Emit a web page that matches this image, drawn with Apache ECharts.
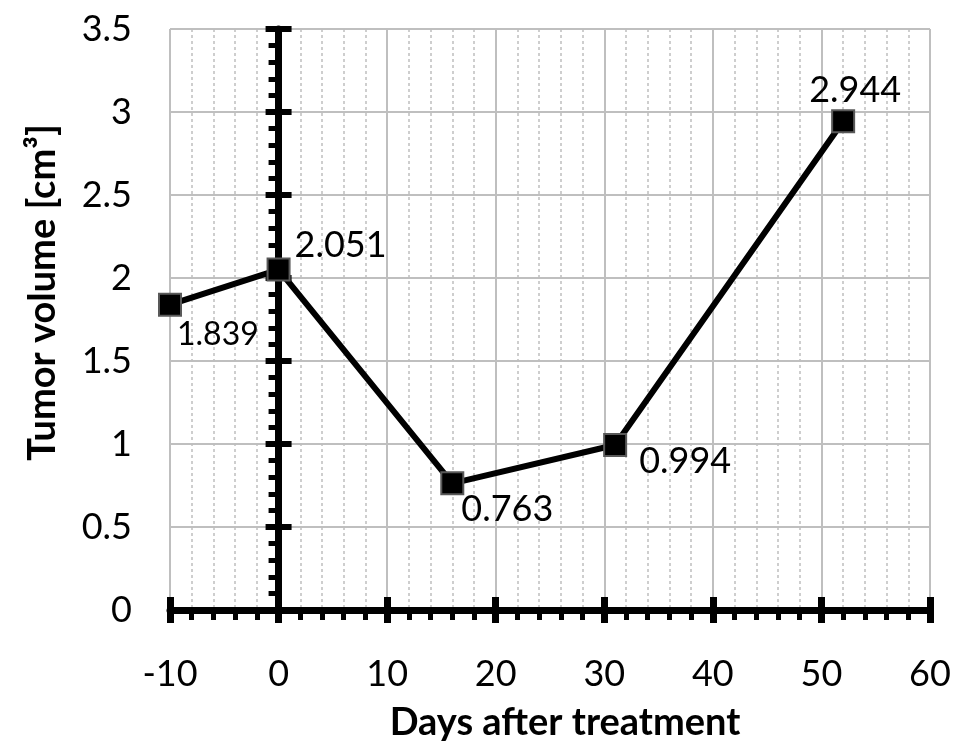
<!DOCTYPE html>
<html>
<head>
<meta charset="utf-8">
<title>Tumor volume</title>
<script src="https://cdn.jsdelivr.net/npm/echarts@6/dist/echarts.min.js"></script>
<style>
html, body { margin: 0; padding: 0; background: #fff; }
#main { width: 980px; height: 755px; }
</style>
</head>
<body>
<div id="main"></div>
<script>
/* 数据 */
var days = [-10, 0, 16, 31, 52];
var tumorVolume = [1.839, 2.051, 0.763, 0.994, 2.944];
/* 坐标轴刻度 */
var xRange = [-10, 60, 10];
var yRange = [0, 3.5, 0.5];

/* 每个数据标签相对于方块的位置 */
var labelPos = [[19, 42], [28, -12], [21, 38], [36, 28], [-22, -19]];
var labelSize = [32, 36, 36, 36, 36];

var FONT = 'Lato';
var GRID = '#bfbfbf';

function echartsTumor(divDom) {
    var seriesData = [];
    for (var i = 0; i < days.length; i++) {
        seriesData.push({
            value: [days[i], tumorVolume[i]],
            label: { position: labelPos[i], fontSize: labelSize[i] }
        });
    }

    var myChart = echarts.init(divDom);
    var option = {
        animation: false,
        textStyle: { fontFamily: FONT },
        grid: { left: 170, right: 50, top: 29, bottom: 145, containLabel: false },
        xAxis: [
            {
                type: 'value', position: 'bottom',
                min: xRange[0], max: xRange[1], interval: xRange[2],
                name: 'Days after treatment',
                nameLocation: 'middle', nameGap: 94,
                nameTextStyle: { fontSize: 38, fontWeight: 'bold', color: '#000', fontFamily: FONT, padding: [0, 0, 0, 30] },
                axisLine: { show: true, lineStyle: { color: '#000', width: 7 } },
                axisTick: { show: true, length: 13, lineStyle: { color: '#000', width: 7 } },
                minorTick: { show: true, splitNumber: 5, length: 10, lineStyle: { color: '#000', width: 5 } },
                axisLabel: { fontSize: 36, color: '#000', margin: 46, fontFamily: FONT },
                splitLine: { show: true, lineStyle: { color: GRID, width: 2 } },
                minorSplitLine: { show: true, lineStyle: { color: GRID, width: 1.5, type: [3, 3] } }
            },
            {
                /* 向内的刻度 */
                type: 'value', position: 'bottom',
                min: xRange[0], max: xRange[1], interval: xRange[2],
                axisLine: { show: false },
                axisTick: { show: true, inside: true, length: 13, lineStyle: { color: '#000', width: 7 } },
                axisLabel: { show: false },
                splitLine: { show: false }
            }
        ],
        yAxis: [
            {
                type: 'value', position: 'left',
                min: yRange[0], max: yRange[1], interval: yRange[2],
                name: 'Tumor volume [cm\u00b3]',
                nameLocation: 'middle', nameGap: 108,
                nameTextStyle: { fontSize: 38, fontWeight: 'bold', color: '#000', fontFamily: FONT, padding: [0, 0, 0, 54] },
                axisLine: { show: true, onZero: true, lineStyle: { color: '#000', width: 7 } },
                axisTick: { show: true, length: 13, lineStyle: { color: '#000', width: 6 } },
                minorTick: { show: true, splitNumber: 5, length: 10, lineStyle: { color: '#000', width: 5 } },
                axisLabel: { fontSize: 36, color: '#000', margin: 38, fontFamily: FONT },
                splitLine: { show: true, lineStyle: { color: GRID, width: 2 } }
            },
            {
                type: 'value', position: 'left',
                min: yRange[0], max: yRange[1], interval: yRange[2],
                axisLine: { show: false, onZero: true },
                axisTick: { show: true, inside: true, length: 13, lineStyle: { color: '#000', width: 6 } },
                axisLabel: { show: false },
                splitLine: { show: false }
            }
        ],
        series: [
            {
                type: 'line',
                data: seriesData,
                symbol: 'rect',
                symbolSize: 22,
                lineStyle: { color: '#000', width: 6 },
                itemStyle: { color: '#000', borderColor: '#595959', borderWidth: 2 },
                label: {
                    show: true, color: '#000', fontFamily: FONT,
                    align: 'left', verticalAlign: 'middle',
                    formatter: function (p) { return p.value[1].toFixed(3); }
                },
                z: 5
            }
        ]
    };
    myChart.setOption(option);
}

echartsTumor(document.getElementById('main'));
</script>
</body>
</html>
